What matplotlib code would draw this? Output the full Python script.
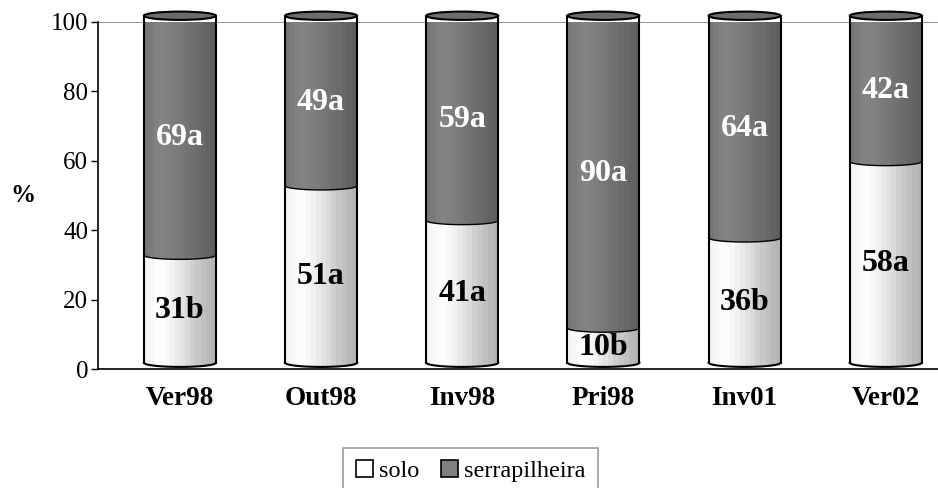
import numpy as np
import matplotlib
matplotlib.use("Agg")
import matplotlib.pyplot as plt
from matplotlib.path import Path
from matplotlib.patches import PathPatch, Ellipse, Patch
from matplotlib.colors import LinearSegmentedColormap

categories = ["Ver98", "Out98", "Inv98", "Pri98", "Inv01", "Ver02"]
solo = [31, 51, 41, 10, 36, 58]
serrapilheira = [69, 49, 59, 90, 64, 42]
solo_letters = ["b", "a", "a", "b", "b", "a"]
serra_letters = ["a", "a", "a", "a", "a", "a"]
yticks = [0, 20, 40, 60, 80, 100]

plt.rcParams['font.family'] = ['Liberation Serif', 'DejaVu Serif']

fig = plt.figure(figsize=(9.38, 4.88), dpi=100)
ax = fig.add_axes([98/938, 119/488, 1 - 98/938, (369-22)/488])

W = 0.51
SHIFT = 1.8      # 3D offset of cylinders
B = 1.2          # ellipse half height (data units)

cmap_solo = LinearSegmentedColormap.from_list(
    "solo", ["#f4f4f4", "#ffffff", "#f0f0f0", "#dcdcdc", "#c4c4c4", "#b4b4b4"])
cmap_serra = LinearSegmentedColormap.from_list(
    "serra", ["#767676", "#858585", "#7e7e7e", "#747474", "#6a6a6a", "#5e5e5e"])

def band_gradient(cmap, n=14):
    v = np.linspace(0, 1, n)
    return cmap(v)[None, :, :]

def side_path(xc, y0, y1):
    a = W / 2
    t = np.linspace(-1, 1, 60)
    xs = xc + a * t
    ys_bot = y0 - B * np.sqrt(np.clip(1 - t**2, 0, 1))
    ys_top = y1 - B * np.sqrt(np.clip(1 - t**2, 0, 1))
    verts = list(zip(xs, ys_bot)) + list(zip(xs[::-1], ys_top[::-1]))
    verts.append(verts[0])
    codes = [Path.MOVETO] + [Path.LINETO] * (len(verts) - 2) + [Path.CLOSEPOLY]
    return Path(verts, codes)

x = np.arange(len(categories))
for i in range(len(categories)):
    xc = x[i]
    segs = [(0, solo[i], cmap_solo), (solo[i], solo[i] + serrapilheira[i], cmap_serra)]
    for (y0, y1, cm) in segs:
        p = side_path(xc, y0 + SHIFT, y1 + SHIFT)
        patch = PathPatch(p, facecolor='none', edgecolor='none', transform=ax.transData)
        ax.add_patch(patch)
        im = ax.imshow(band_gradient(cm), extent=[xc - W/2, xc + W/2, y0 + SHIFT - B - 1, y1 + SHIFT + 1],
                       aspect='auto', interpolation='nearest', zorder=2)
        im.set_clip_path(patch)
    a = W / 2
    t = np.linspace(-1, 1, 60)
    top = solo[i] + serrapilheira[i] + SHIFT
    bot = SHIFT
    mid = solo[i] + SHIFT
    ax.plot(xc + a * t, bot - B * np.sqrt(1 - t**2), color='black', lw=1.5, zorder=4, clip_on=False)
    ax.plot(xc + a * t, mid - B * np.sqrt(1 - t**2), color='black', lw=1.0, zorder=4, clip_on=False)
    ax.plot([xc - a, xc - a], [bot, top], color='black', lw=1.5, zorder=4, clip_on=False)
    ax.plot([xc + a, xc + a], [bot, top], color='black', lw=1.5, zorder=4, clip_on=False)
    ax.add_patch(Ellipse((xc, top), W, 2 * B, facecolor='#6c6c6c', edgecolor='black',
                         lw=1.5, zorder=5, clip_on=False))
    ax.text(xc, solo[i] / 2 + SHIFT - 0.5, f"{solo[i]}{solo_letters[i]}", ha='center', va='center',
            fontsize=23, fontweight='bold', color='black', zorder=6)
    ax.text(xc, solo[i] + serrapilheira[i] / 2 + SHIFT - 0.5, f"{serrapilheira[i]}{serra_letters[i]}",
            ha='center', va='center', fontsize=23, fontweight='bold', color='white', zorder=6)

ax.axhline(100, color='#808080', lw=1.2, zorder=1)
ax.set_xlim(-0.58, 5.37)
ax.set_ylim(0, 100)
ax.set_yticks(yticks)
ax.set_yticklabels([str(v) for v in yticks], fontsize=18)
ax.set_xticks(x)
ax.set_xticklabels(categories, fontsize=19.5, fontweight='bold')
ax.tick_params(axis='x', length=0, pad=12)
ax.tick_params(axis='y', length=5, width=1, direction='out', pad=2)
for s in ['top', 'right']:
    ax.spines[s].set_visible(False)
ax.spines['left'].set_linewidth(1.2)
ax.spines['bottom'].set_linewidth(1.2)
fig.text(23/938, 1 - 195/488, '%', fontsize=18, fontweight='bold', ha='center', va='center')

handles = [Patch(facecolor='white', edgecolor='black', lw=1.2),
           Patch(facecolor='#808080', edgecolor='black', lw=1.2)]
leg = fig.legend(handles, ['solo', 'serrapilheira'], ncol=2, loc='upper center',
                 bbox_to_anchor=(470.5/938, 1 - 448/488), fontsize=17.5, frameon=True,
                 fancybox=False, edgecolor='#808080', handlelength=0.7, handleheight=0.7,
                 handletextpad=0.25, columnspacing=0.9, borderpad=0.5, borderaxespad=0)
leg.get_frame().set_linewidth(1.2)

fig.savefig("out.png", dpi=100)
